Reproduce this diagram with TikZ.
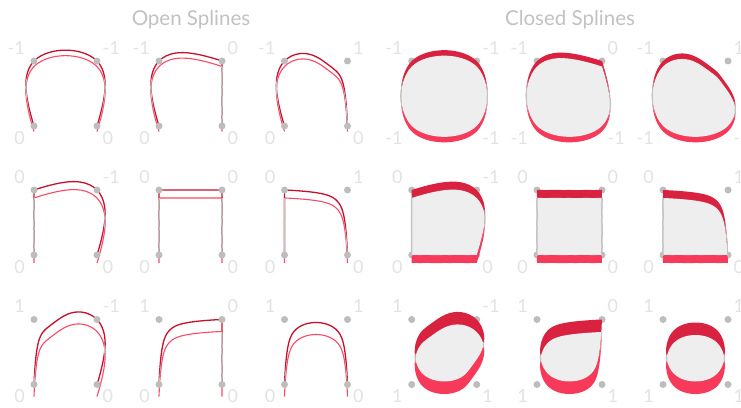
\documentclass[tikz,border=0pt]{standalone}
\usepackage{fontspec}
\setmainfont{Lato}
\definecolor{dk}{HTML}{C8102E}
\definecolor{pk}{HTML}{FF4867}
\definecolor{bandtop}{HTML}{D9223F}
\definecolor{bandbot}{HTML}{F83A5A}
\definecolor{innerc}{HTML}{EEEEEE}
\definecolor{gl}{HTML}{C4C4C4}
\definecolor{dotc}{HTML}{BDBDBD}
\definecolor{lab}{HTML}{E3E3E3}
\definecolor{ttl}{HTML}{C2C2C2}

\newcommand\setpt[4]{%
  \expandafter\edef\csname X#1\endcsname{#2}%
  \expandafter\edef\csname Y#1\endcsname{#3}%
  \expandafter\edef\csname S#1\endcsname{#4}}
\newcommand\addpt[2]{%
  \pgfmathsetmacro\tmpxl{#1-0.8}%
  \pgfmathsetmacro\tmpxr{#1+0.8}%
  \pgfmathsetmacro\tmpy{#2+\ribdy}%
  \xdef\fwd{\fwd(#1,#2) }%
  \xdef\ribL{\ribL(\tmpxl,\tmpy) }%
  \xdef\ribR{(\tmpxr,\tmpy) \ribR}}
\newcommand\xseg[4]{%
  \edef\xa{\csname X#1\endcsname}\edef\ya{\csname Y#1\endcsname}%
  \edef\xb{\csname X#2\endcsname}\edef\yb{\csname Y#2\endcsname}%
  \edef\xc{\csname X#3\endcsname}\edef\yc{\csname Y#3\endcsname}%
  \edef\xd{\csname X#4\endcsname}\edef\yd{\csname Y#4\endcsname}%
  \edef\Sa{\csname S#2\endcsname}\edef\Sb{\csname S#3\endcsname}%
  \foreach \k in {0,...,19}{%
    \pgfmathsetmacro\tv{\k/20}%
    \ifnum\Sa<0
      \pgfmathsetmacro\wA{hb(-\tv,1)}\pgfmathsetmacro\wC{gb(\tv,1)}%
    \else\ifnum\Sa=0
      \def\wA{0}\pgfmathsetmacro\wC{fb(\tv,1)}%
    \else
      \pgfmathsetmacro\wA{fb(\tv-1,-2)}\pgfmathsetmacro\wC{fb(\tv+1,2)}%
    \fi\fi
    \ifnum\Sb<0
      \pgfmathsetmacro\wB{gb(1-\tv,1)}\pgfmathsetmacro\wD{hb(\tv-1,1)}%
    \else\ifnum\Sb=0
      \pgfmathsetmacro\wB{fb(\tv-1,-1)}\def\wD{0}%
    \else
      \pgfmathsetmacro\wB{fb(\tv-2,-2)}\pgfmathsetmacro\wD{fb(\tv,2)}%
    \fi\fi
    \pgfmathsetmacro\ws{(\wA)+(\wB)+(\wC)+(\wD)}%
    \pgfmathsetmacro\px{((\wA)*(\xa)+(\wB)*(\xb)+(\wC)*(\xc)+(\wD)*(\xd))/(\ws)}%
    \pgfmathsetmacro\py{((\wA)*(\ya)+(\wB)*(\yb)+(\wC)*(\yc)+(\wD)*(\yd))/(\ws)}%
    \addpt{\px}{\py}%
  }}

% #1 name, #2 xL, #3 yT, #4 w, #5 h, #6 r, #7 c, #8 d
\newcommand\opencell[8]{%
  \pgfmathsetmacro\xR{#2+#4}\pgfmathsetmacro\yB{#3+#5}%
  \setpt{1}{#2}{\yB}{0}\setpt{2}{#2}{#3}{#6}\setpt{3}{\xR}{#3}{#7}\setpt{4}{\xR}{\yB}{0}%
  \gdef\fwd{}\gdef\ribL{}\gdef\ribR{}\def\ribdy{#8}%
  \xseg{1}{1}{2}{3}\xseg{1}{2}{3}{4}\xseg{2}{3}{4}{4}%
  \addpt{\xR}{\yB}%
  \begin{scope}[shift={(0,#8)}]
    \edef\tmp{\noexpand\draw[pkline] plot coordinates {\fwd};}\tmp
  \end{scope}
  \edef\tmp{\noexpand\draw[dkline] plot coordinates {\fwd};}\tmp
  \begin{scope}
    \edef\tmp{\noexpand\clip plot coordinates {\ribL} -- plot coordinates {\ribR} -- cycle;}\tmp
    \edef\tmp{\noexpand\draw[ovline] plot coordinates {\fwd};}\tmp
  \end{scope}
  \fill[dotst] (#2,#3) circle[radius=3.5pt] (\xR,#3) circle[radius=3.5pt]
    (\xR,\yB) circle[radius=3.5pt] (#2,\yB) circle[radius=3.5pt];
  \node[labl,anchor=east] (#1tl) at ({#2-9},{#3-13}) {#6};
  \node[labl,anchor=west] (#1tr) at ({\xR+5.5},{#3-13}) {#7};
  \node[labl,anchor=east] (#1bl) at ({#2-9},{\yB+12}) {0};
  \node[labl,anchor=west] (#1br) at ({\xR+5.5},{\yB+12}) {0};
}
\newcommand\closedcell[8]{%
  \pgfmathsetmacro\xR{#2+#4}\pgfmathsetmacro\yB{#3+#5}%
  \setpt{1}{#2}{#3}{#6}\setpt{2}{\xR}{#3}{#7}\setpt{3}{\xR}{\yB}{#6}\setpt{4}{#2}{\yB}{#6}%
  \gdef\fwd{}\gdef\ribL{}\gdef\ribR{}\def\ribdy{#8}%
  \xseg{4}{1}{2}{3}\xseg{1}{2}{3}{4}\xseg{2}{3}{4}{1}\xseg{3}{4}{1}{2}%
  \fill[dotst] (#2,#3) circle[radius=3.5pt] (\xR,#3) circle[radius=3.5pt]
    (\xR,\yB) circle[radius=3.5pt] (#2,\yB) circle[radius=3.5pt];
  \begin{scope}[shift={(0,#8)}]
    \edef\tmp{\noexpand\fill[bandbot] plot coordinates {\fwd} -- cycle;}\tmp
  \end{scope}
  \edef\tmp{\noexpand\fill[bandtop] plot coordinates {\fwd} -- cycle;}\tmp
  \begin{scope}
    \edef\tmp{\noexpand\clip plot coordinates {\fwd} -- cycle;}\tmp
    \begin{scope}[shift={(0,#8)}]
      \edef\tmp{\noexpand\fill[innerc] plot coordinates {\fwd} -- cycle;}\tmp
    \end{scope}
  \end{scope}
  \begin{scope}
    \edef\tmp{\noexpand\clip plot coordinates {\ribL} -- plot coordinates {\ribR} -- cycle;}\tmp
    \edef\tmp{\noexpand\draw[ovline] plot coordinates {\fwd} -- cycle;}\tmp
  \end{scope}
  \node[labl,anchor=east] (#1tl) at ({#2-9},{#3-13}) {#6};
  \node[labl,anchor=west] (#1tr) at ({\xR+5.5},{#3-13}) {#7};
  \node[labl,anchor=east] (#1bl) at ({#2-9},{\yB+12}) {#6};
  \node[labl,anchor=west] (#1br) at ({\xR+5.5},{\yB+12}) {#6};
}

\begin{document}
\begin{tikzpicture}[x=1pt,y=-1pt,
  declare function={
    fb(\fn,\fd)=((\fn)/(\fd))*((\fn)/(\fd))*((\fn)/(\fd))*(10-2*(\fd)*(\fd)+(4*(\fd)*(\fd)-15)*((\fn)/(\fd))+(6-2*(\fd)*(\fd))*((\fn)/(\fd))*((\fn)/(\fd)));
    gb(\gu,\gq)=(\gu)*((\gq)+(\gu)*(2*(\gq)+(\gu)*(8-12*(\gq)+(\gu)*(14*(\gq)-11+(\gu)*(4-5*(\gq))))));
    hb(\gu,\gq)=(\gu)*((\gq)+(\gu)*(2*(\gq)+(\gu)*(\gu)*(-2*(\gq)-(\gu)*(\gq))));
  },
  pkline/.style={draw=pk,line width=1.1pt},
  dkline/.style={draw=dk,line width=1.3pt},
  ovline/.style={draw=gl,line width=1.5pt},
  dotst/.style={fill=dotc},
  labl/.style={text=lab,inner sep=0pt,font=\fontsize{18}{18}\selectfont},
  ttlst/.style={text=ttl,inner sep=0pt,font=\fontsize{20.5}{21}\selectfont}]
\fill[white] (0,0) rectangle (741,407);
\useasboundingbox (0,0) rectangle (741,407);
\node[ttlst] (title1) at (191,20) {Open Splines};
\node[ttlst] (title2) at (570,20) {Closed Splines};
% open splines
\opencell{o11}{34}{61}{63}{65}{-1}{-1}{5.5}
\opencell{o12}{159}{61}{63}{65}{-1}{0}{5.5}
\opencell{o13}{284.5}{61}{63}{65}{-1}{1}{5.5}
\opencell{o21}{34}{190}{63}{65}{0}{-1}{8}
\opencell{o22}{159}{190}{63}{65}{0}{0}{8}
\opencell{o23}{284.5}{190}{63}{65}{0}{1}{8}
\opencell{o31}{34}{319.5}{63}{65}{1}{-1}{12}
\opencell{o32}{159}{319.5}{63}{65}{1}{0}{12}
\opencell{o33}{284.5}{319.5}{63}{65}{1}{1}{12}
% closed splines
\closedcell{c11}{411.7}{61}{65}{65}{-1}{-1}{5.5}
\closedcell{c12}{537}{61}{65}{65}{-1}{0}{5.5}
\closedcell{c13}{663}{61}{65}{65}{-1}{1}{5.5}
\closedcell{c21}{411.7}{190}{65}{65}{0}{-1}{8}
\closedcell{c22}{537}{190}{65}{65}{0}{0}{8}
\closedcell{c23}{663}{190}{65}{65}{0}{1}{8}
\closedcell{c31}{411.7}{319.5}{65}{65}{1}{-1}{12.5}
\closedcell{c32}{537}{319.5}{65}{65}{1}{0}{12.5}
\closedcell{c33}{663}{319.5}{65}{65}{1}{1}{12.5}
\end{tikzpicture}
\end{document}
